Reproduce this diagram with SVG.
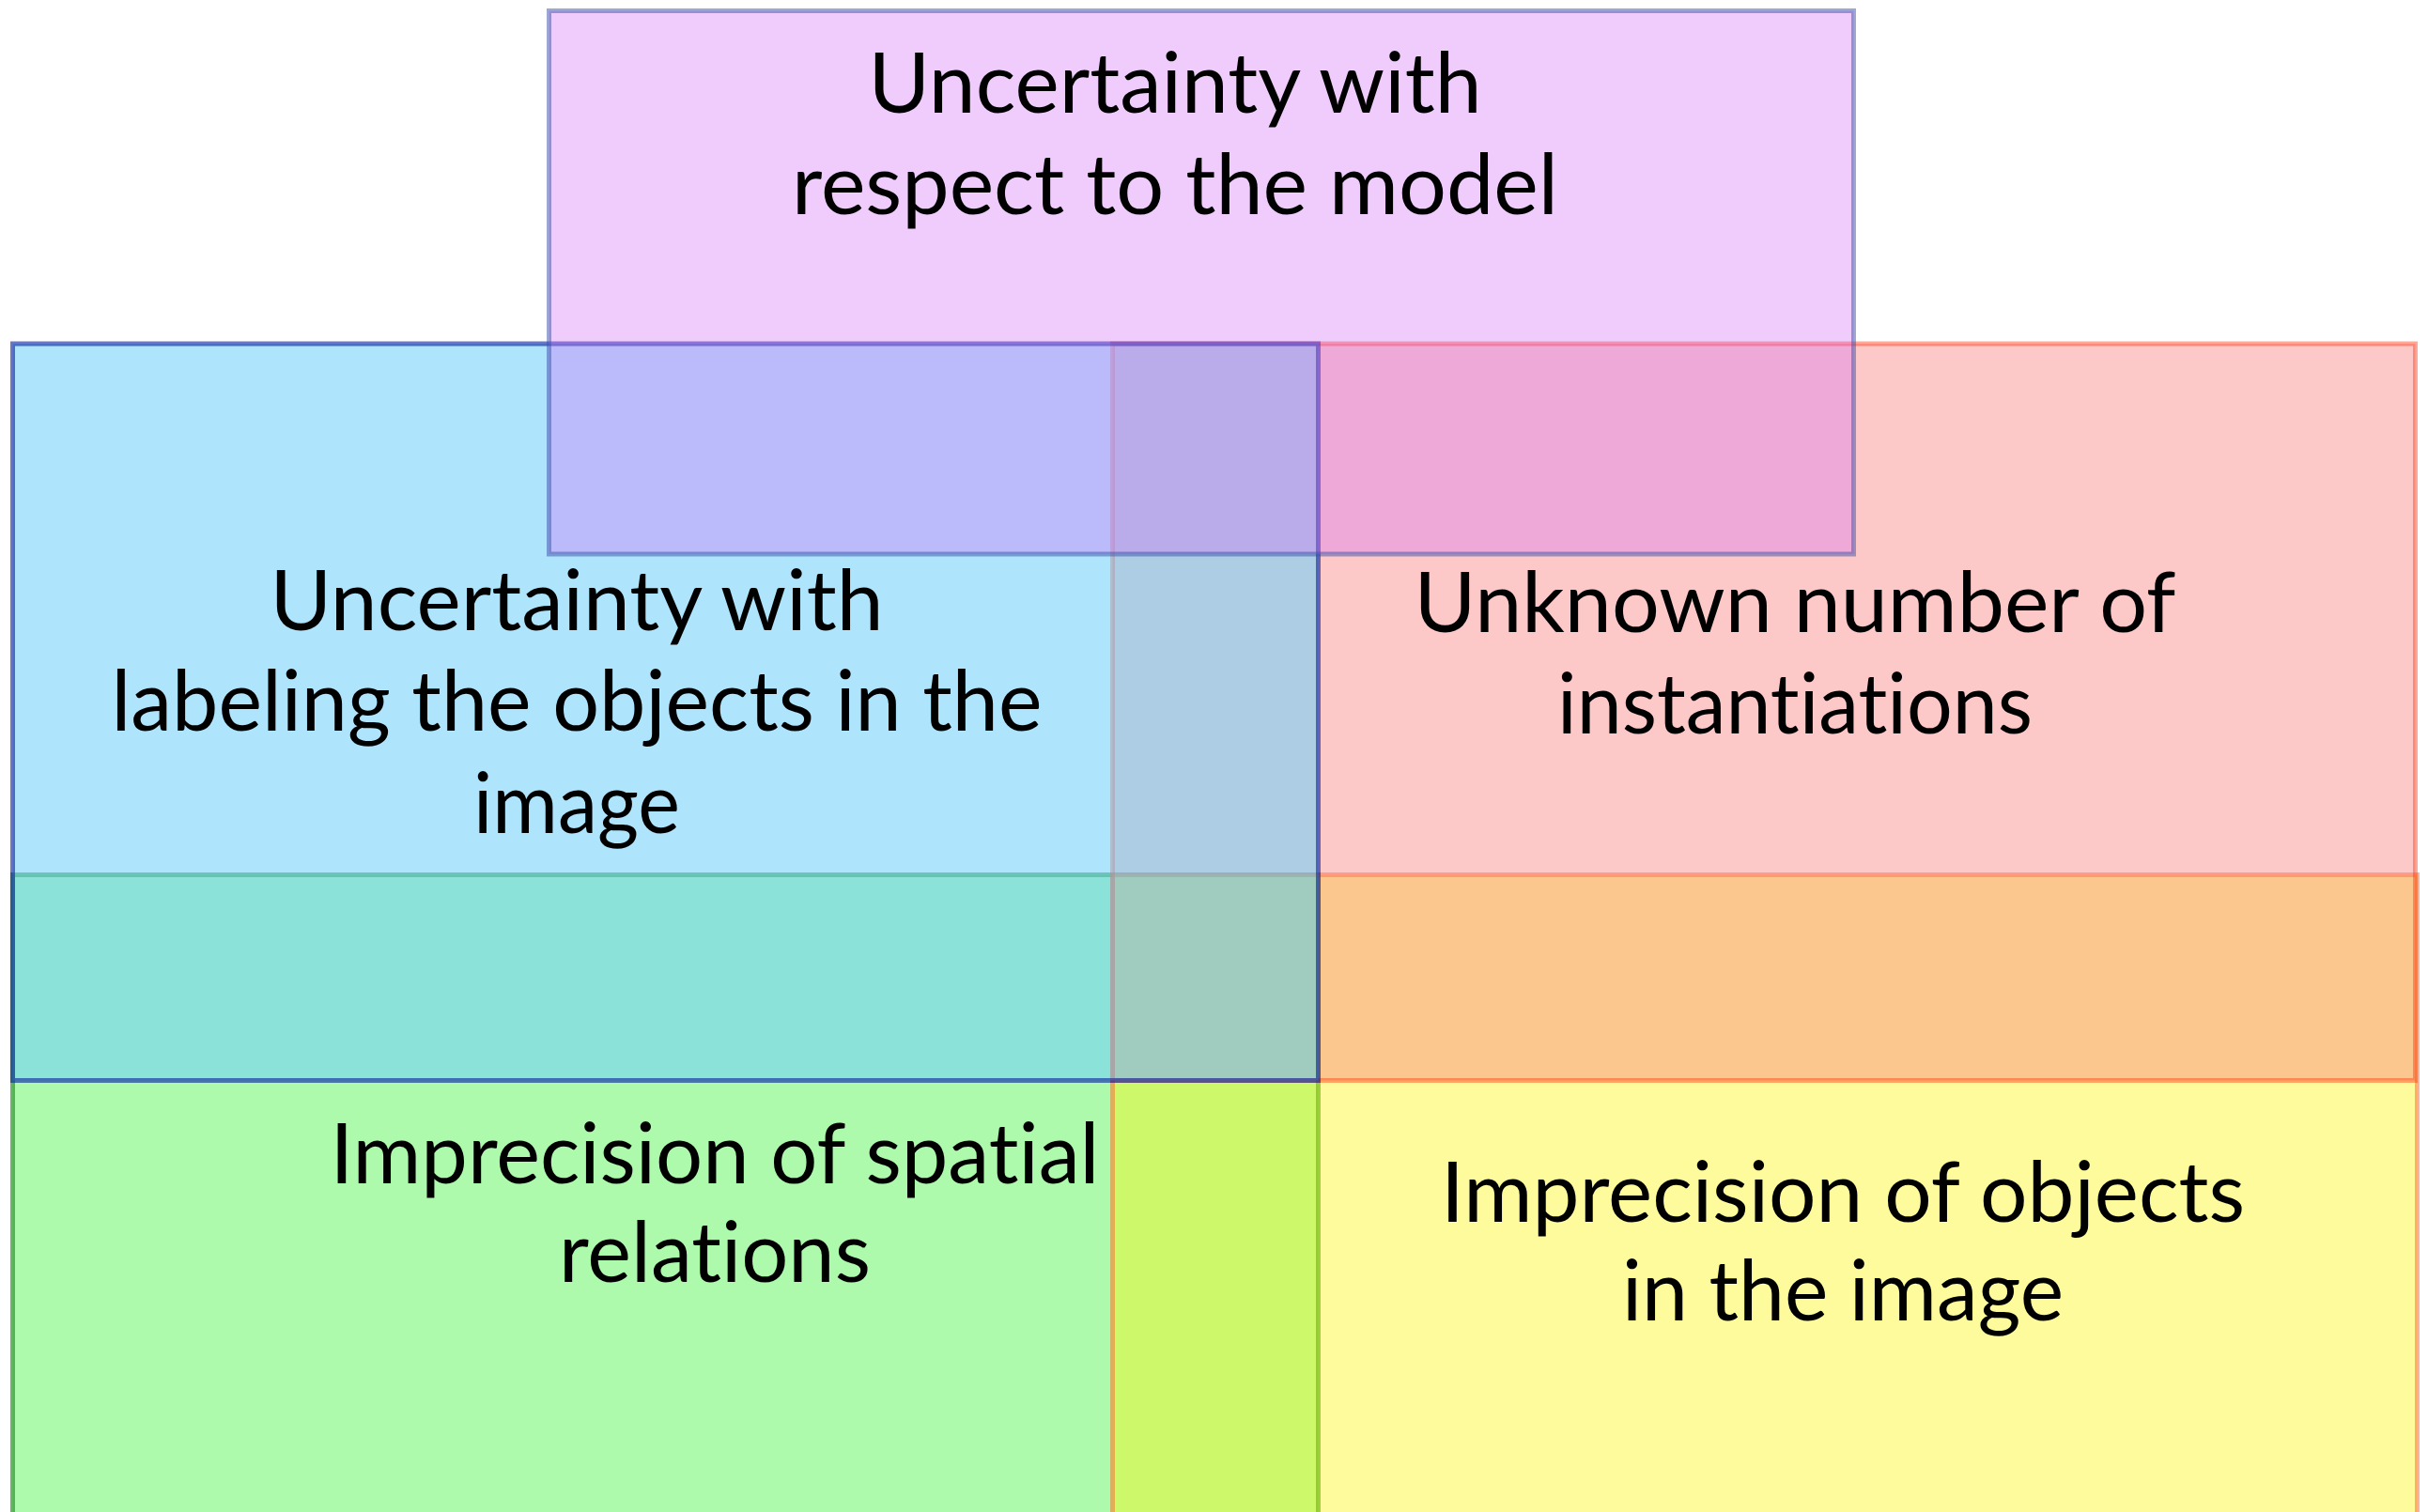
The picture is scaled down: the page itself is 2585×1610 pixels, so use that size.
<svg xmlns="http://www.w3.org/2000/svg" width="2585" height="1610" viewBox="0 0 2585 1610">
<style>
.box{stroke-width:5}
.green{fill:#5bf55b;fill-opacity:0.5;stroke:#289628;stroke-opacity:0.7}
.yellow{fill:#fcf500;fill-opacity:0.39;stroke:#ff6428;stroke-opacity:0.5}
.red{fill:#f87e7c;fill-opacity:0.42;stroke:#ff300a;stroke-opacity:0.42}
.blue{fill:#72d0fa;fill-opacity:0.574;stroke:#071e9d;stroke-opacity:0.6}
.purple{fill:#d46ef9;fill-opacity:0.35;stroke:#3c50aa;stroke-opacity:0.5}
text{font-family:Lato,"Open Sans","Liberation Sans",sans-serif;font-size:90px;fill:#000;text-anchor:middle;font-variant-ligatures:none;font-feature-settings:"liga" 0}
</style>
<rect width="2585" height="1610" fill="#ffffff"/>
<g id="shapes">
<g id="node-spatial"><rect class="box green" x="13.5" y="931.5" width="1390" height="700"/></g>
<g id="node-objects"><rect class="box yellow" x="1184.5" y="931.5" width="1389" height="700"/></g>
<g id="node-instantiations"><rect class="box red" x="1184.5" y="366" width="1387" height="784.5"/></g>
<g id="node-labeling"><rect class="box blue" x="13.5" y="366" width="1390" height="784.5"/></g>
<g id="node-model"><rect class="box purple" x="584.5" y="11.5" width="1389" height="578.5"/></g>
</g>
<g id="connectors"></g>
<g id="labels">
<text x="1251" y="120" textLength="653" lengthAdjust="spacingAndGlyphs">Uncertainty with</text>
<text x="1251" y="228" textLength="816" lengthAdjust="spacingAndGlyphs">respect to the model</text>
<text x="614" y="671" textLength="653" lengthAdjust="spacingAndGlyphs">Uncertainty with</text>
<text x="614" y="778" textLength="991" lengthAdjust="spacingAndGlyphs">labeling the objects in the</text>
<text x="614" y="887" textLength="220" lengthAdjust="spacingAndGlyphs">image</text>
<text x="1911" y="673" textLength="811" lengthAdjust="spacingAndGlyphs">Unknown number of</text>
<text x="1911" y="781" textLength="506" lengthAdjust="spacingAndGlyphs">instantiations</text>
<text x="761" y="1260" textLength="819" lengthAdjust="spacingAndGlyphs">Imprecision of spatial</text>
<text x="761" y="1365" textLength="332" lengthAdjust="spacingAndGlyphs">relations</text>
<text x="1962" y="1301" textLength="856" lengthAdjust="spacingAndGlyphs">Imprecision of objects</text>
<text x="1962" y="1406" textLength="470" lengthAdjust="spacingAndGlyphs">in the image</text>
</g>
</svg>
